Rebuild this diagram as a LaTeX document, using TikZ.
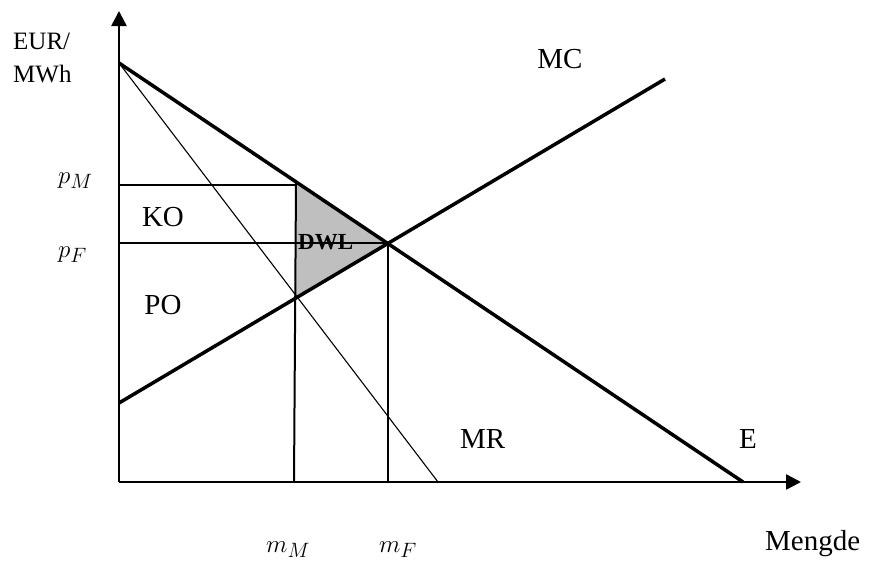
\documentclass[tikz,border=0pt]{standalone}
\usepackage{fontspec}
\setmainfont{Liberation Serif}
\usetikzlibrary{arrows.meta}
\begin{document}
\begin{tikzpicture}[x=1pt,y=-1pt,
  axis/.style={line width=2.5pt,-{Triangle[length=15pt,width=15pt]}},
  curve/.style={line width=3.5pt},
  thinline/.style={line width=1.1pt},
  guide/.style={line width=2pt},
  lbl/.style={font=\fontsize{29}{32}\selectfont, inner sep=0pt},
  mlbl/.style={font=\fontsize{30}{32}\selectfont, inner sep=0pt},
  small/.style={font=\fontsize{25}{28}\selectfont, inner sep=0pt}]
\useasboundingbox (0,0) rectangle (872,560);
% coordinates
\coordinate (O) at (119,482);
\coordinate (ytop) at (119,11);
\coordinate (xend) at (801,482);
\coordinate (D0) at (119,63);
\coordinate (D1) at (743,482);
\coordinate (MC0) at (119,403);
\coordinate (MC1) at (665,79);
\coordinate (MR1) at (438,482);
\coordinate (A) at (296,183);
\coordinate (A2) at (296,185);
\coordinate (B) at (388,243);
\coordinate (C) at (296,297);
\coordinate (pM) at (119,185);
\coordinate (pF) at (119,243);
\coordinate (mM) at (294,482);
\coordinate (mF) at (388,482);
% DWL
\fill[gray!50] (A) -- (B) -- (C) -- cycle;
% guides
\draw[guide] (pM) -- (A2);
\draw[guide] (pF) -- (B);
\draw[guide] (A) -- (mM);
\draw[guide] (B) -- (mF);
% curves
\draw[thinline] (D0) -- (MR1);
\draw[curve] (D0) -- (D1);
\draw[curve] (MC0) -- (MC1);
% axes
\draw[axis] (O) -- (ytop);
\draw[axis] (O) -- (xend);
% labels
\node[small, anchor=base west] (eur) at (13,49) {EUR/};
\node[small, anchor=base west] (mwh) at (13,82) {MWh};
\node[lbl, anchor=base] (mc) at (560,68) {MC};
\node[mlbl, anchor=base west] (lpM) at (58,183) {$p_M$};
\node[mlbl, anchor=base west] (lpF) at (58,257) {$p_F$};
\node[lbl] (ko) at (163,217) {KO};
\node[lbl] (po) at (163,305) {PO};
\node[font=\bfseries\fontsize{23}{25}\selectfont, inner sep=0pt, anchor=base west] (dwl) at (298,249) {DWL};
\node[lbl, anchor=base west] (mr) at (460,448) {MR};
\node[lbl, anchor=base west] (e) at (739,448) {E};
\node[mlbl, anchor=base] (lmM) at (288,552) {$m_M$};
\node[mlbl, anchor=base] (lmF) at (398,552) {$m_F$};
\node[lbl, anchor=base west] (meng) at (765,550) {Mengde};
\end{tikzpicture}
\end{document}
